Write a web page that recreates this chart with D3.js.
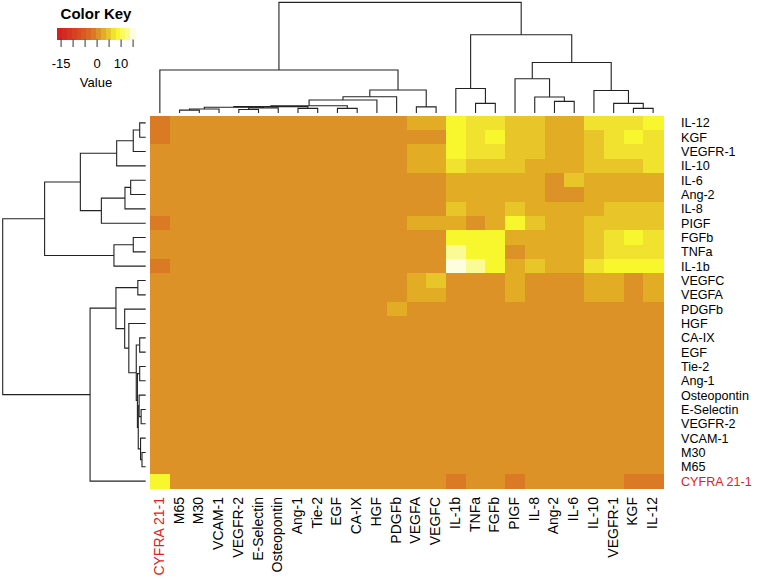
<!DOCTYPE html>
<html><head><meta charset="utf-8">
<script src="https://cdn.jsdelivr.net/npm/d3@7"></script>
<style>
body{margin:0;background:#fff}
svg{display:block}
text{font-family:"Liberation Sans",Arial,Helvetica,sans-serif;fill:#000}
</style>
</head><body>
<svg id="chart" width="758" height="580"></svg>
<script>
// ---------------- data ----------------
const colLabels = ["CYFRA 21-1","M65","M30","VCAM-1","VEGFR-2","E-Selectin","Osteopontin","Ang-1","Tie-2","EGF","CA-IX","HGF","PDGFb","VEGFA","VEGFC","IL-1b","TNFa","FGFb","PIGF","IL-8","Ang-2","IL-6","IL-10","VEGFR-1","KGF","IL-12"];
const rowLabels = ["IL-12","KGF","VEGFR-1","IL-10","IL-6","Ang-2","IL-8","PIGF","FGFb","TNFa","IL-1b","VEGFC","VEGFA","PDGFb","HGF","CA-IX","EGF","Tie-2","Ang-1","Osteopontin","E-Selectin","VEGFR-2","VCAM-1","M30","M65","CYFRA 21-1"];
const highlightLabels = ["CYFRA 21-1"];

// values: one row per rowLabels entry, columns in colLabels order
const values = [
/* IL-12      */ [-1.5,0.5,0.5,0.5,0.5,0.5,0.5,0.5,0.5,0.5,0.5,0.5,0.5,2.5,2.5,8.5,6.5,6.5,4.5,4.5,2.5,2.5,6.5,6.5,6.5,8.5],
/* KGF        */ [-1.5,0.5,0.5,0.5,0.5,0.5,0.5,0.5,0.5,0.5,0.5,0.5,0.5,0.5,0.5,8.5,6.5,8.5,4.5,4.5,2.5,2.5,4.5,6.5,8.5,6.5],
/* VEGFR-1    */ [0.5,0.5,0.5,0.5,0.5,0.5,0.5,0.5,0.5,0.5,0.5,0.5,0.5,2.5,2.5,8.5,6.5,6.5,4.5,4.5,2.5,2.5,4.5,6.5,6.5,6.5],
/* IL-10      */ [0.5,0.5,0.5,0.5,0.5,0.5,0.5,0.5,0.5,0.5,0.5,0.5,0.5,2.5,2.5,6.5,4.5,4.5,4.5,2.5,2.5,2.5,4.5,4.5,4.5,6.5],
/* IL-6       */ [0.5,0.5,0.5,0.5,0.5,0.5,0.5,0.5,0.5,0.5,0.5,0.5,0.5,0.5,0.5,2.5,2.5,2.5,2.5,2.5,0.5,4.5,2.5,2.5,2.5,2.5],
/* Ang-2      */ [0.5,0.5,0.5,0.5,0.5,0.5,0.5,0.5,0.5,0.5,0.5,0.5,0.5,0.5,0.5,2.5,2.5,2.5,2.5,2.5,0.5,0.5,2.5,2.5,2.5,2.5],
/* IL-8       */ [0.5,0.5,0.5,0.5,0.5,0.5,0.5,0.5,0.5,0.5,0.5,0.5,0.5,0.5,0.5,4.5,2.5,2.5,4.5,2.5,2.5,2.5,2.5,4.5,4.5,4.5],
/* PIGF       */ [-1.5,0.5,0.5,0.5,0.5,0.5,0.5,0.5,0.5,0.5,0.5,0.5,0.5,2.5,2.5,2.5,0.5,2.5,8.5,4.5,2.5,2.5,4.5,4.5,4.5,4.5],
/* FGFb       */ [0.5,0.5,0.5,0.5,0.5,0.5,0.5,0.5,0.5,0.5,0.5,0.5,0.5,0.5,0.5,8.5,8.5,8.5,2.5,2.5,2.5,2.5,4.5,6.5,8.5,6.5],
/* TNFa       */ [0.5,0.5,0.5,0.5,0.5,0.5,0.5,0.5,0.5,0.5,0.5,0.5,0.5,0.5,0.5,12.5,8.5,8.5,0.5,2.5,2.5,2.5,4.5,6.5,6.5,6.5],
/* IL-1b      */ [-1.5,0.5,0.5,0.5,0.5,0.5,0.5,0.5,0.5,0.5,0.5,0.5,0.5,0.5,0.5,14.8,12.5,8.5,2.5,4.5,2.5,2.5,6.5,8.5,8.5,8.5],
/* VEGFC      */ [0.5,0.5,0.5,0.5,0.5,0.5,0.5,0.5,0.5,0.5,0.5,0.5,0.5,2.5,4.5,0.5,0.5,0.5,2.5,0.5,0.5,0.5,2.5,2.5,0.5,2.5],
/* VEGFA      */ [0.5,0.5,0.5,0.5,0.5,0.5,0.5,0.5,0.5,0.5,0.5,0.5,0.5,2.5,2.5,0.5,0.5,0.5,2.5,0.5,0.5,0.5,2.5,2.5,0.5,2.5],
/* PDGFb      */ [0.5,0.5,0.5,0.5,0.5,0.5,0.5,0.5,0.5,0.5,0.5,0.5,2.5,0.5,0.5,0.5,0.5,0.5,0.5,0.5,0.5,0.5,0.5,0.5,0.5,0.5],
/* HGF        */ [0.5,0.5,0.5,0.5,0.5,0.5,0.5,0.5,0.5,0.5,0.5,0.5,0.5,0.5,0.5,0.5,0.5,0.5,0.5,0.5,0.5,0.5,0.5,0.5,0.5,0.5],
/* CA-IX      */ [0.5,0.5,0.5,0.5,0.5,0.5,0.5,0.5,0.5,0.5,0.5,0.5,0.5,0.5,0.5,0.5,0.5,0.5,0.5,0.5,0.5,0.5,0.5,0.5,0.5,0.5],
/* EGF        */ [0.5,0.5,0.5,0.5,0.5,0.5,0.5,0.5,0.5,0.5,0.5,0.5,0.5,0.5,0.5,0.5,0.5,0.5,0.5,0.5,0.5,0.5,0.5,0.5,0.5,0.5],
/* Tie-2      */ [0.5,0.5,0.5,0.5,0.5,0.5,0.5,0.5,0.5,0.5,0.5,0.5,0.5,0.5,0.5,0.5,0.5,0.5,0.5,0.5,0.5,0.5,0.5,0.5,0.5,0.5],
/* Ang-1      */ [0.5,0.5,0.5,0.5,0.5,0.5,0.5,0.5,0.5,0.5,0.5,0.5,0.5,0.5,0.5,0.5,0.5,0.5,0.5,0.5,0.5,0.5,0.5,0.5,0.5,0.5],
/* Osteopontin*/ [0.5,0.5,0.5,0.5,0.5,0.5,0.5,0.5,0.5,0.5,0.5,0.5,0.5,0.5,0.5,0.5,0.5,0.5,0.5,0.5,0.5,0.5,0.5,0.5,0.5,0.5],
/* E-Selectin */ [0.5,0.5,0.5,0.5,0.5,0.5,0.5,0.5,0.5,0.5,0.5,0.5,0.5,0.5,0.5,0.5,0.5,0.5,0.5,0.5,0.5,0.5,0.5,0.5,0.5,0.5],
/* VEGFR-2    */ [0.5,0.5,0.5,0.5,0.5,0.5,0.5,0.5,0.5,0.5,0.5,0.5,0.5,0.5,0.5,0.5,0.5,0.5,0.5,0.5,0.5,0.5,0.5,0.5,0.5,0.5],
/* VCAM-1     */ [0.5,0.5,0.5,0.5,0.5,0.5,0.5,0.5,0.5,0.5,0.5,0.5,0.5,0.5,0.5,0.5,0.5,0.5,0.5,0.5,0.5,0.5,0.5,0.5,0.5,0.5],
/* M30        */ [0.5,0.5,0.5,0.5,0.5,0.5,0.5,0.5,0.5,0.5,0.5,0.5,0.5,0.5,0.5,0.5,0.5,0.5,0.5,0.5,0.5,0.5,0.5,0.5,0.5,0.5],
/* M65        */ [0.5,0.5,0.5,0.5,0.5,0.5,0.5,0.5,0.5,0.5,0.5,0.5,0.5,0.5,0.5,0.5,0.5,0.5,0.5,0.5,0.5,0.5,0.5,0.5,0.5,0.5],
/* CYFRA 21-1 */ [8.5,0.5,0.5,0.5,0.5,0.5,0.5,0.5,0.5,0.5,0.5,0.5,0.5,0.5,0.5,-1.5,0.5,0.5,-1.5,0.5,0.5,0.5,0.5,0.5,-1.5,-1.5]
];

const keyDomain = [-16.7, 15.8];
const keyColors = ["#d42020","#d52a20","#d63520","#d74120","#d84d20","#d95a21","#da6822","#da7a24","#dc9227","#e2ac25","#e8c62a","#f0e22e","#f8f62c","#fbfb60","#fbfb96","#fdfde0"];
const keyTicks = [-15,-10,-5,0,5,10,15];
const keyTickLabels = [-15,0,10];

// dendrogram (shared by rows and columns); h = merge height
const tree = {h:100, c:[
  {h:38.9, c:["CYFRA 21-1",
    {h:20.8, c:[
      {h:14.7, c:[
        {h:11.8, c:[
          {h:6.6, c:[
            {h:5.8, c:[
              {h:5.2, c:[
                {h:3.6, c:[{h:2.6, c:["M65","M30"]}, "VCAM-1"]},
                {h:4.6, c:[{h:3.2, c:["VEGFR-2","E-Selectin"]}, "Osteopontin"]}
              ]},
              {h:4.2, c:["Ang-1","Tie-2"]}
            ]},
            {h:4.2, c:["EGF","CA-IX"]}
          ]},
          "HGF"]},
        "PDGFb"]},
      {h:5.5, c:["VEGFA","VEGFC"]}
    ]}
  ]},
  {h:70.7, c:[
    {h:22.2, c:["IL-1b", {h:8.7, c:["TNFa","FGFb"]}]},
    {h:45.7, c:[
      {h:31.0, c:["PIGF", {h:14.5, c:["IL-8", {h:10.5, c:["Ang-2","IL-6"]}]}]},
      {h:20.3, c:["IL-10", {h:8.7, c:["VEGFR-1", {h:4.2, c:["KGF","IL-12"]}]}]}
    ]}
  ]}
]};

// ---------------- drawing ----------------
const svg = d3.select("#chart");
svg.append("rect").attr("width",758).attr("height",580).attr("fill","#fff");

const xCol = d3.scaleBand().domain(colLabels).range([150, 663]);
const yRow = d3.scaleBand().domain(rowLabels).range([115.7, 488.3]);
const color = d3.scaleQuantize().domain(keyDomain).range(keyColors);
const colH = d3.scaleLinear().domain([0,100]).range([113, 2.4]);
const rowH = d3.scaleLinear().domain([0,100]).range([145.7, 2.7]);

// heatmap cells
const cells = [];
rowLabels.forEach((r,i)=>colLabels.forEach((c,j)=>cells.push({r,c,v:values[i][j]})));
svg.append("g").attr("shape-rendering","crispEdges")
  .selectAll("rect").data(cells).join("rect")
  .attr("x",d=>xCol(d.c)).attr("y",d=>yRow(d.r))
  .attr("width",xCol.bandwidth()+0.6).attr("height",yRow.bandwidth()+0.6)
  .attr("fill",d=>color(d.v));

// dendrograms
function drawDendro(posScale, hScale, horizontal){
  const root = d3.hierarchy(tree, d => typeof d === "string" ? null : d.c);
  root.eachAfter(n=>{
    if(!n.children){ n.pos = posScale(n.data)+posScale.bandwidth()/2; n.ht = 0; }
    else { n.pos = d3.mean(n.children, k=>k.pos); n.ht = n.data.h; }
  });
  const g = svg.append("g").attr("fill","none").attr("stroke","#222").attr("stroke-width",1.1);
  root.each(n=>{
    if(!n.children) return;
    const [a,b] = n.children;
    const pts = [[a.pos,a.ht],[a.pos,n.ht],[b.pos,n.ht],[b.pos,b.ht]];
    const p = d3.path();
    pts.forEach((q,i)=>{
      const px = horizontal ? hScale(q[1]) : q[0];
      const py = horizontal ? q[0] : hScale(q[1]);
      if(i===0) p.moveTo(px,py); else p.lineTo(px,py);
    });
    g.append("path").attr("d",p.toString());
  });
}
drawDendro(xCol, colH, false);
drawDendro(yRow, rowH, true);

// row labels (right)
svg.append("g").selectAll("text").data(rowLabels).join("text")
  .attr("x",681).attr("y",d=>yRow(d)+yRow.bandwidth()/2)
  .attr("dy","0.36em").attr("font-size",12.6)
  .style("fill",d=>highlightLabels.includes(d)?"#e3211c":"#000")
  .text(d=>d);

// column labels (bottom, rotated)
svg.append("g").selectAll("text").data(colLabels).join("text")
  .attr("transform",d=>`translate(${xCol(d)+xCol.bandwidth()/2+4},497) rotate(-90)`)
  .attr("text-anchor","end").attr("font-size",14)
  .style("fill",d=>highlightLabels.includes(d)?"#e3211c":"#000")
  .text(d=>d);

// color key
const keyX = d3.scaleLinear().domain(keyDomain).range([57,135]);
const step = (keyDomain[1]-keyDomain[0])/keyColors.length;
const kg = svg.append("g");
kg.append("g").attr("shape-rendering","crispEdges").selectAll("rect").data(keyColors).join("rect")
  .attr("x",(d,i)=>keyX(keyDomain[0]+i*step))
  .attr("width",keyX(keyDomain[0]+step)-keyX(keyDomain[0])+0.5)
  .attr("y",28).attr("height",11.5).attr("fill",d=>d);
kg.selectAll("line").data(keyTicks).join("line")
  .attr("x1",d=>keyX(d)).attr("x2",d=>keyX(d)).attr("y1",39.5).attr("y2",47)
  .attr("stroke","#333").attr("stroke-width",1);
kg.selectAll("text.tl").data(keyTickLabels).join("text").attr("class","tl")
  .attr("x",d=>keyX(d)).attr("y",63).attr("dy","0.35em").attr("text-anchor","middle")
  .attr("font-size",13).text(d=>d);
kg.append("text").attr("x",96).attr("y",82).attr("dy","0.35em").attr("text-anchor","middle")
  .attr("font-size",13).text("Value");
kg.append("text").attr("x",96).attr("y",14).attr("dy","0.35em").attr("text-anchor","middle")
  .attr("font-size",15).attr("font-weight","bold").text("Color Key");
</script>
</body></html>
